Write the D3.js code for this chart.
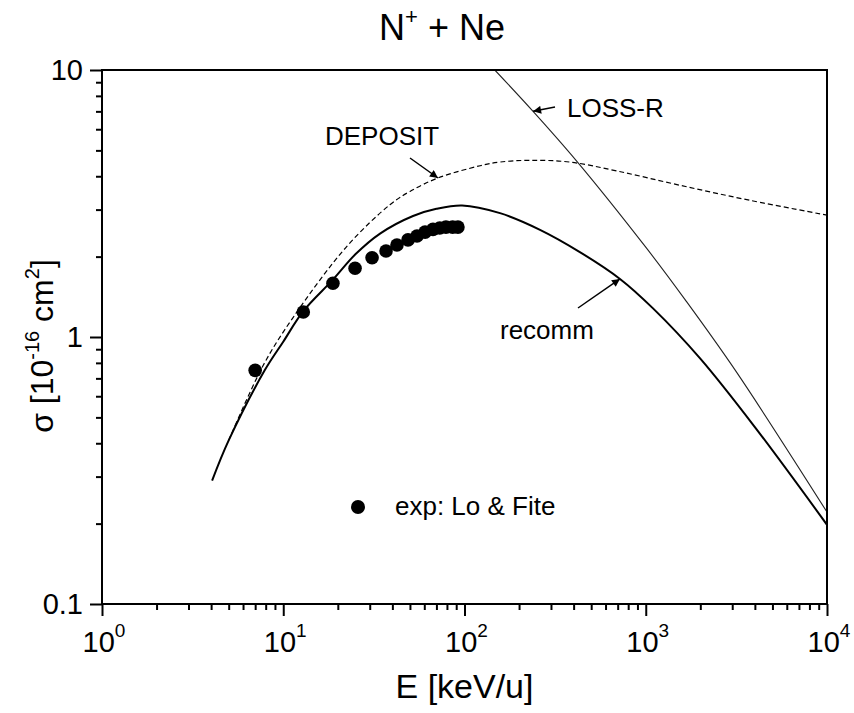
<!DOCTYPE html>
<html>
<head>
<meta charset="utf-8">
<script src="https://cdn.jsdelivr.net/npm/d3@7"></script>
<style>
  body { margin: 0; background: #fff; }
  svg text { font-family: "Liberation Sans", Arial, sans-serif; fill: #000; }
</style>
</head>
<body>
<svg id="draw" width="854" height="713"></svg>
<script>
// experimental points (Lo & Fite)
let expE     = [7.0, 12.9, 18.8, 24.9, 30.9, 36.9, 42.4, 48.8, 54.7, 60.6, 67, 73, 79, 86, 92];
let expSigma = [0.75, 1.24, 1.59, 1.81, 1.98, 2.10, 2.21, 2.31, 2.39, 2.47, 2.53, 2.56, 2.58, 2.58, 2.58];

// recommended curve
let recE     = [4.05, 5, 7.9, 10, 12.9, 18.8, 25, 34.2, 52, 70, 97, 157, 261, 433, 721, 1097, 2000, 4000, 10000];
let recSigma = [0.29, 0.41, 0.75, 0.96, 1.25, 1.64, 2.04, 2.44, 2.84, 3.02, 3.11, 2.91, 2.52, 2.08, 1.65, 1.28, 0.83, 0.46, 0.198];

// DEPOSIT code (dashed)
let depE     = [5, 7.73, 11.3, 22.5, 38.8, 50, 71.4, 122, 157, 230, 382, 700, 1545, 3758, 10000];
let depSigma = [0.41, 0.78, 1.18, 2.19, 3.13, 3.51, 3.94, 4.38, 4.52, 4.59, 4.52, 4.18, 3.70, 3.25, 2.86];

// LOSS-R code
let lossE     = [147, 239, 418, 1000, 1648, 3162, 10000];
let lossSigma = [10, 7.0, 4.54, 2.17, 1.38, 0.74, 0.221];

let xMajor = [1, 10, 100, 1000, 10000];
let xExp = ["0", "1", "2", "3", "4"];
let yMajor = [0.1, 1, 10];
let yLabels = ["0.1", "1", "10"];

let svg = d3.select("#draw");
let pLeft = 102, pRight = 827, pTop = 70, pBottom = 604;

let x = d3.scaleLog().domain([1, 10000]).range([pLeft, pRight]);
let y = d3.scaleLog().domain([0.1, 10]).range([pBottom, pTop]);

function minors(lo, hi) {
    let out = [];
    for (let d = lo; d < hi; d *= 10)
        for (let k = 2; k <= 9; k++) out.push(d * k);
    return out;
}

// defs: arrow head + clip
let defs = svg.append("defs");
defs.append("marker")
    .attr("id", "arrow")
    .attr("viewBox", "0 0 10 10")
    .attr("refX", 10).attr("refY", 5)
    .attr("markerWidth", 11).attr("markerHeight", 8)
    .attr("markerUnits", "userSpaceOnUse")
    .attr("orient", "auto")
    .append("path").attr("d", "M0,0 L10,5 L0,10 z").attr("fill", "#000");
defs.append("clipPath").attr("id", "plot")
    .append("rect").attr("x", pLeft).attr("y", pTop)
    .attr("width", pRight - pLeft).attr("height", pBottom - pTop);

// curves
let line = d3.line().x(d => x(d[0])).y(d => y(d[1])).curve(d3.curveCatmullRom.alpha(0.5));

let g = svg.append("g").attr("clip-path", "url(#plot)");
g.append("path").datum(depE.map((e, i) => [e, depSigma[i]]))
    .attr("d", line).attr("fill", "none").attr("stroke", "#000")
    .attr("stroke-width", 1.2).attr("stroke-dasharray", "5,3");
g.append("path").datum(lossE.map((e, i) => [e, lossSigma[i]]))
    .attr("d", line).attr("fill", "none").attr("stroke", "#222")
    .attr("stroke-width", 1.1);
g.append("path").datum(recE.map((e, i) => [e, recSigma[i]]))
    .attr("d", line).attr("fill", "none").attr("stroke", "#000")
    .attr("stroke-width", 2);

g.selectAll("circle.exp").data(expE).enter().append("circle")
    .attr("class", "exp")
    .attr("cx", e => x(e))
    .attr("cy", (e, i) => y(expSigma[i]))
    .attr("r", 6.8).attr("fill", "#000");

// axes
svg.append("g").attr("transform", "translate(0," + pBottom + ")")
    .call(d3.axisBottom(x).tickValues(xMajor).tickSize(12).tickFormat(""));
svg.append("g").attr("transform", "translate(0," + pBottom + ")")
    .call(d3.axisBottom(x).tickValues(minors(1, 10000)).tickSize(6).tickFormat(""));
svg.append("g").attr("transform", "translate(" + pLeft + ",0)")
    .call(d3.axisLeft(y).tickValues(yMajor).tickSize(12).tickFormat(""));
svg.append("g").attr("transform", "translate(" + pLeft + ",0)")
    .call(d3.axisLeft(y).tickValues(minors(0.1, 10)).tickSize(6).tickFormat(""));

svg.selectAll(".domain").remove();
svg.selectAll(".tick line").attr("stroke", "#000").attr("stroke-width", 2);

// frame
svg.append("rect").attr("x", pLeft).attr("y", pTop)
    .attr("width", pRight - pLeft).attr("height", pBottom - pTop)
    .attr("fill", "none").attr("stroke", "#000").attr("stroke-width", 2);

// tick labels
xMajor.forEach((v, i) => {
    let t = svg.append("text").attr("x", x(v) + 2).attr("y", 652)
        .attr("text-anchor", "middle").attr("font-size", 29);
    t.append("tspan").text("10");
    t.append("tspan").attr("dy", -15).attr("font-size", 19).text(xExp[i]);
});
yMajor.forEach((v, i) => {
    svg.append("text").attr("x", 83).attr("y", y(v)).attr("dy", "0.35em")
        .attr("text-anchor", "end").attr("font-size", 29).text(yLabels[i]);
});

// axis titles
svg.append("text").attr("x", (pLeft + pRight) / 2).attr("y", 698)
    .attr("text-anchor", "middle").attr("font-size", 34).text("E [keV/u]");
let yt = svg.append("text").attr("transform", "translate(53,346) rotate(-90)")
    .attr("text-anchor", "middle").attr("font-size", 32);
yt.append("tspan").text("σ [10");
yt.append("tspan").attr("dy", -14).attr("font-size", 20).text("-16");
yt.append("tspan").attr("dy", 14).text(" cm");
yt.append("tspan").attr("dy", -14).attr("font-size", 20).text("2");
yt.append("tspan").attr("dy", 14).text("]");

// title
let tt = svg.append("text").attr("x", 442).attr("y", 40)
    .attr("text-anchor", "middle").attr("font-size", 36);
tt.append("tspan").text("N");
tt.append("tspan").attr("dy", -16).attr("font-size", 22).text("+");
tt.append("tspan").attr("dy", 16).text(" + Ne");

// annotations
function annotate(label, tx, ty, x0, y0, e, s) {
    svg.append("text").attr("x", tx).attr("y", ty).attr("font-size", 26).text(label);
    svg.append("line").attr("x1", x0).attr("y1", y0).attr("x2", x(e)).attr("y2", y(s))
        .attr("stroke", "#000").attr("stroke-width", 1.5).attr("marker-end", "url(#arrow)");
}
annotate("DEPOSIT", 325, 145, 410, 158, 71.4, 3.94);
annotate("LOSS-R", 567, 117, 555, 107, 239, 7.0);
annotate("recomm", 500, 339, 578, 308, 721, 1.65);

// legend
svg.append("circle").attr("cx", 358).attr("cy", 507).attr("r", 7).attr("fill", "#000");
svg.append("text").attr("x", 395).attr("y", 515).attr("font-size", 26).text("exp: Lo & Fite");
</script>
</body>
</html>
